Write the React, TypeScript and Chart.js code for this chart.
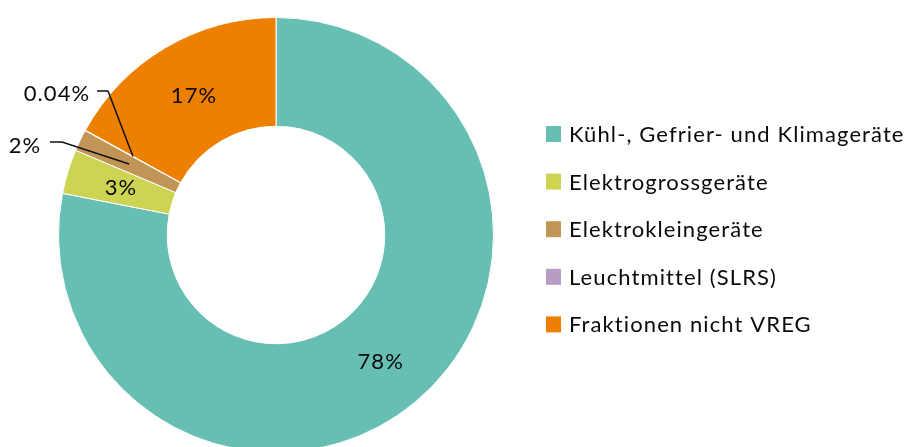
import React, { useEffect, useRef } from "react";
import { Chart, registerables } from "chart.js";
Chart.register(...registerables);

const categories = [
  "Kühl-, Gefrier- und Klimageräte",
  "Elektrogrossgeräte",
  "Elektrokleingeräte",
  "Leuchtmittel (SLRS)",
  "Fraktionen nicht VREG",
];
const shares = [78.1, 3.3, 1.6, 0.04, 17.0];
const shareLabels = ["78%", "3%", "2%", "0.04%", "17%"];
const colors = ["#67BFB4", "#CDD453", "#C19556", "#B99CC1", "#EE8001"];

const FONT = "Lato, 'Open Sans', sans-serif";

const labelPlugin = {
  id: "labels",
  afterDatasetsDraw(chart: any) {
    const ctx = chart.ctx;
    const meta = chart.getDatasetMeta(0);
    ctx.save();
    ctx.font = `22px ${FONT}`;
    (ctx as any).letterSpacing = "1.1px";
    ctx.fillStyle = "#0a0a0a";
    ctx.textAlign = "center";
    ctx.textBaseline = "middle";
    // inside labels
    [0, 1, 4].forEach((i) => {
      const p = meta.data[i].tooltipPosition();
      ctx.fillText(shareLabels[i], p.x + 1, p.y + 1);
    });
    // outside labels with leader lines
    const outside = [
      { i: 2, tx: 25, ty: 146, lx: 50, ly: 142, hx: 62 },
      { i: 3, tx: 57, ty: 94, lx: 97, ly: 91, hx: 108 },
    ];
    ctx.strokeStyle = "#111";
    ctx.lineWidth = 1.5;
    outside.forEach((o) => {
      const arc = meta.data[o.i];
      const mid = (arc.startAngle + arc.endAngle) / 2;
      const r = (arc.innerRadius + arc.outerRadius) / 2;
      const ex = arc.x + Math.cos(mid) * r;
      const ey = arc.y + Math.sin(mid) * r;
      ctx.beginPath();
      ctx.moveTo(o.lx, o.ly);
      ctx.lineTo(o.hx, o.ly);
      ctx.lineTo(ex, ey);
      ctx.stroke();
      ctx.fillText(shareLabels[o.i], o.tx, o.ty);
    });
    // legend
    ctx.textAlign = "left";
    categories.forEach((c, i) => {
      const y = 134 + i * 47.6;
      ctx.fillStyle = colors[i];
      ctx.fillRect(546, y - 8, 15, 16);
      ctx.fillStyle = "#0a0a0a";
      ctx.fillText(c, 569, y + 1);
    });
    ctx.restore();
  },
};

export default function App() {
  const ref = useRef<HTMLCanvasElement>(null);
  useEffect(() => {
    document.body.style.margin = "0";
    const chart = new Chart(ref.current!, {
      type: "doughnut",
      data: {
        labels: categories,
        datasets: [
          {
            data: shares,
            backgroundColor: colors,
            borderColor: "#ffffff",
            borderWidth: 1,
          },
        ],
      },
      options: {
        animation: false,
        responsive: false,
        cutout: "50%",
        rotation: 0,
        layout: { padding: { left: 58, top: 17, right: 412, bottom: 7 } },
        plugins: { legend: { display: false }, tooltip: { enabled: false } },
      },
      plugins: [labelPlugin],
    });
    return () => chart.destroy();
  }, []);
  return (
    <div style={{ width: 906, height: 447, overflow: "hidden", position: "relative" }}>
      <canvas ref={ref} width={906} height={460} style={{ display: "block" }} />
    </div>
  );
}
